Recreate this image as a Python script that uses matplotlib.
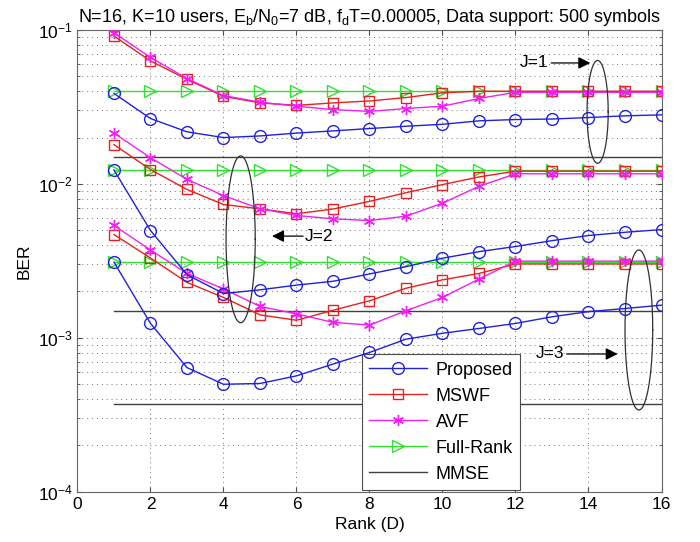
import numpy as np
import matplotlib.pyplot as plt

plt.rcParams['font.family'] = ['Liberation Sans', 'DejaVu Sans']
plt.rcParams['mathtext.default'] = 'regular'

rank = np.arange(1, 17)

# J=1
prop_j1 = [0.0387, 0.0266, 0.0218, 0.0200, 0.0205, 0.0214, 0.0221, 0.0229,
           0.0237, 0.0244, 0.0257, 0.0262, 0.0264, 0.0270, 0.0277, 0.0281]
mswf_j1 = [0.0914, 0.0630, 0.0478, 0.0371, 0.0336, 0.0324, 0.0336, 0.0346,
           0.0364, 0.0391, 0.0400, 0.0400, 0.0400, 0.0400, 0.0400, 0.0400]
avf_j1 = [0.0960, 0.0664, 0.0484, 0.0375, 0.0340, 0.0320, 0.0304, 0.0296,
          0.0309, 0.0320, 0.0359, 0.0394, 0.0394, 0.0394, 0.0394, 0.0394]
full_j1 = 0.0401
mmse_j1 = 0.0150

# J=2
prop_j2 = [0.0123, 0.00498, 0.00257, 0.00194, 0.00205, 0.00220, 0.00233, 0.00260,
           0.00290, 0.00329, 0.00363, 0.00392, 0.00428, 0.00462, 0.00485, 0.00505]
mswf_j2 = [0.0180, 0.0124, 0.0092, 0.00735, 0.00689, 0.00640, 0.00687, 0.00770,
           0.00877, 0.0099, 0.0111, 0.0121, 0.0121, 0.0121, 0.0121, 0.0121]
avf_j2 = [0.0214, 0.0148, 0.0107, 0.0084, 0.0069, 0.00624, 0.00593, 0.00578,
          0.00617, 0.0075, 0.00964, 0.01164, 0.01164, 0.01164, 0.01164, 0.01164]
full_j2 = 0.01226
mmse_j2 = 0.0015

# J=3
prop_j3 = [0.0031, 0.00124, 0.00064, 0.000499, 0.000505, 0.000566, 0.000675, 0.000803,
           0.00098, 0.00107, 0.00115, 0.00124, 0.00137, 0.00148, 0.00155, 0.00163]
mswf_j3 = [0.00469, 0.0033, 0.00229, 0.00183, 0.00141, 0.0013, 0.00151, 0.00174,
           0.0021, 0.00238, 0.00262, 0.00302, 0.00302, 0.00302, 0.00302, 0.00302]
avf_j3 = [0.00537, 0.00372, 0.00262, 0.00208, 0.0016, 0.00143, 0.00126, 0.00121,
          0.0015, 0.00183, 0.00241, 0.00315, 0.00315, 0.00315, 0.00315, 0.00315]
full_j3 = 0.0031
mmse_j3 = 0.00037

fig = plt.figure(figsize=(7.0, 5.42), dpi=100)
ax = fig.add_axes([0.1107, 0.0928, 0.8343, 0.8518])

blue = '#2020e0'
red = '#e82020'
mag = '#f020f0'
green = '#30e030'
gray = '#404040'

groups = [(prop_j1, mswf_j1, avf_j1, full_j1, mmse_j1),
          (prop_j2, mswf_j2, avf_j2, full_j2, mmse_j2),
          (prop_j3, mswf_j3, avf_j3, full_j3, mmse_j3)]

for i, (p, m, a, f, mm) in enumerate(groups):
    lab = (lambda s: s) if i == 0 else (lambda s: '_nolegend_')
    ax.plot(rank, np.full(16, mm), color=gray, lw=1.0, label=lab('MMSE'), zorder=2)
    ax.plot(rank, np.full(16, f), color=green, lw=1.0, marker='>', ms=8,
            mfc='none', mec=green, label=lab('Full-Rank'), zorder=3)
    ax.plot(rank, m, color=red, lw=1.0, marker='s', ms=7, mfc='none',
            mec=red, label=lab('MSWF'), zorder=4)
    ax.plot(rank, a, color=mag, lw=1.0, marker=(6, 2, 0), ms=8, mec=mag,
            label=lab('AVF'), zorder=5)
    ax.plot(rank, p, color=blue, lw=1.0, marker='o', ms=8.5, mfc='none',
            mec=blue, label=lab('Proposed'), zorder=6)

# ellipses (x, log10 centre, x half-width, log half-height)
t = np.linspace(0, 2 * np.pi, 200)
for cx, ly, rx, ry in [(14.25, -1.532, 0.29, 0.334),
                       (4.47, -2.36, 0.40, 0.542),
                       (15.38, -2.949, 0.38, 0.52)]:
    ax.plot(cx + rx * np.cos(t), 10 ** (ly + ry * np.sin(t)), color='#303030',
            lw=0.9, zorder=7)

arr = dict(arrowstyle='-|>', color='k', lw=0.9, mutation_scale=18, shrinkA=0, shrinkB=0)
ax.text(12.5, 0.0611, 'J=1', ha='center', va='center', fontsize=12.5)
ax.annotate('', xy=(14.05, 0.0611), xytext=(12.98, 0.0611), arrowprops=arr)
ax.text(6.62, 0.00458, 'J=2', ha='center', va='center', fontsize=12.5)
ax.annotate('', xy=(5.33, 0.00458), xytext=(6.18, 0.00458), arrowprops=arr)
ax.text(12.95, 0.000785, 'J=3', ha='center', va='center', fontsize=12.5)
ax.annotate('', xy=(14.8, 0.000785), xytext=(13.4, 0.000785), arrowprops=arr)

ax.set_yscale('log')
ax.set_xlim(0, 16)
ax.set_ylim(1e-4, 1e-1)
ax.set_xticks(np.arange(0, 17, 2))
ax.grid(True, which='major', axis='x', linestyle=(0, (1, 4)), color='0.45', lw=0.7)
ax.grid(True, which='both', axis='y', linestyle=(0, (1, 4)), color='0.45', lw=0.7)
ax.tick_params(which='both', direction='in', top=True, right=True, labelsize=12.5, colors='0.3')
ax.tick_params(which='both', labelcolor='k')
for s in ax.spines.values():
    s.set_color('0.4')

ax.set_xlabel('Rank (D)', fontsize=12.5, labelpad=4)
ax.set_ylabel('BER', fontsize=12.5)
ax.set_title('N=16, K=10 users, E$_b$/N$_0$=7 dB, f$_d$T=0.00005, Data support: 500 symbols',
             fontsize=13, pad=6)

h, l = ax.get_legend_handles_labels()
order = ['Proposed', 'MSWF', 'AVF', 'Full-Rank', 'MMSE']
hd = {k: v for k, v in zip(l, h)}
leg = ax.legend([hd[k] for k in order], order, loc='lower left',
                bbox_to_anchor=(0.487, 0.004), borderaxespad=0, fontsize=13,
                fancybox=False, framealpha=1, edgecolor='0.3', handlelength=3.2,
                borderpad=0.4, labelspacing=0.5, handletextpad=0.5)
leg.get_frame().set_linewidth(0.8)

fig.savefig('out.png', dpi=100)
